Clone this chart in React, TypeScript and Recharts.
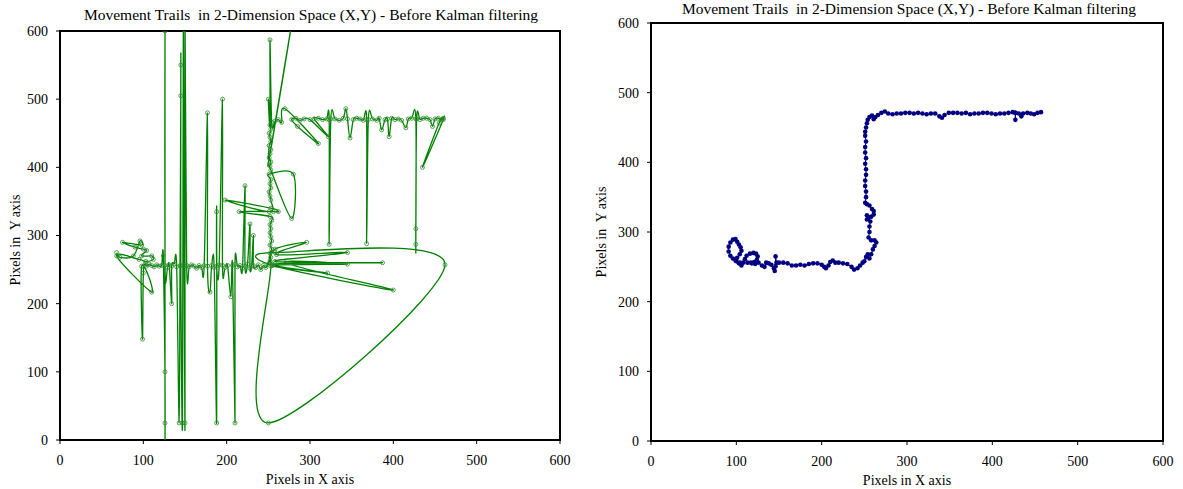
import React from 'react';
import { ScatterChart, Scatter, XAxis, YAxis, ReferenceArea } from 'recharts';

const TITLE = 'Movement Trails  in 2-Dimension Space (X,Y) - Before Kalman filtering';
const X_LABEL = 'Pixels in X axis';
const Y_LABEL = 'Pixels in  Y axis';
const axisTicks = [0, 100, 200, 300, 400, 500, 600];

// raw detections, noisy (left panel)
const rawTrail: [number, number][] = [
  [68, 275], [72, 268], [88, 270], [96, 292], [98, 286], [75, 290], [90, 283], [100, 280],
  [104, 278], [98, 270], [110, 270], [112, 265], [103, 262], [95, 265], [68, 270], [110, 217],
  [98, 255], [99, 148], [100, 245], [102, 258], [104, 255], [107, 258], [110, 256], [113, 254],
  [116, 257], [119, 255], [122, 256], [124, 270], [126, 100], [126, 25], [126, 600], [126, 256],
  [129, 253], [131, 257], [134, 200], [134, 255], [137, 258], [140, 254], [143, 25], [144, 256],
  [145, 505], [145, 550], [145, 256], [147, 25], [148, 620], [149, 256], [150, 25], [150, 610],
  [152, 256], [155, 254], [158, 257], [161, 255], [164, 252], [167, 256], [170, 253], [173, 256],
  [177, 480], [177, 255], [180, 217], [182, 256], [185, 253], [188, 25], [188, 335], [188, 255],
  [191, 257], [195, 500], [195, 256], [198, 253], [201, 256], [205, 210], [207, 256], [210, 25],
  [210, 258], [213, 254], [216, 256], [219, 252], [222, 373], [222, 255], [225, 258], [228, 317],
  [228, 252], [230, 256], [232, 300], [232, 256], [235, 253], [238, 257], [241, 250], [244, 256],
  [247, 253], [250, 258], [253, 255], [250, 25], [462, 257], [258, 275], [255, 256], [400, 220],
  [270, 260], [345, 258], [255, 256], [321, 245], [255, 258], [387, 260], [258, 262], [345, 275],
  [260, 272], [296, 290], [258, 280], [252, 262], [253, 268], [252, 274], [254, 280], [252, 286],
  [254, 292], [253, 298], [252, 304], [253, 310], [252, 316], [254, 322], [252, 328], [215, 335],
  [256, 335], [262, 335], [253, 340], [198, 352], [251, 335], [253, 352], [252, 358], [251, 364],
  [253, 370], [252, 376], [253, 382], [251, 390], [280, 390], [278, 325], [253, 396], [252, 402],
  [253, 408], [251, 414], [252, 420], [282, 640], [253, 426], [251, 432], [253, 438], [252, 444],
  [251, 450], [253, 456], [250, 500], [252, 462], [252, 587], [254, 466], [258, 468], [262, 470],
  [266, 466], [270, 486], [310, 435], [285, 460], [278, 470], [283, 472], [288, 469], [293, 471],
  [300, 470], [322, 445], [305, 471], [310, 472], [315, 470], [320, 471], [323, 470], [323, 287],
  [325, 471], [330, 471], [335, 469], [340, 472], [343, 486], [345, 471], [348, 443], [352, 470],
  [356, 472], [360, 471], [364, 469], [368, 470], [368, 288], [370, 470], [375, 471], [380, 469],
  [383, 472], [386, 455], [390, 470], [393, 471], [395, 445], [398, 472], [402, 470], [406, 471],
  [410, 469], [415, 458], [418, 471], [422, 472], [427, 471], [427, 287], [427, 310], [428, 471],
  [432, 470], [436, 472], [440, 472], [444, 470], [447, 460], [450, 471], [454, 472], [458, 470],
  [460, 470], [435, 400], [455, 465], [460, 472],
];

// tracked path (right panel)
const cleanTrail: [number, number][] = [
  [104, 256], [100, 258], [96, 262], [93, 266], [91, 272], [91, 279], [93, 285], [96, 289],
  [99, 290], [101, 286], [103, 282], [105, 278], [106, 273], [104, 268], [101, 263], [99, 259],
  [103, 255], [106, 252], [108, 256], [110, 261], [112, 266], [116, 269], [120, 270], [123, 269],
  [125, 265], [124, 260], [121, 257], [117, 256], [113, 256], [118, 255], [122, 254], [126, 256],
  [130, 252], [133, 250], [135, 256], [138, 255], [141, 253], [144, 248], [145, 244], [146, 251],
  [146, 265], [147, 256], [150, 256], [155, 256], [160, 255], [165, 252], [170, 252], [175, 253],
  [180, 252], [185, 254], [190, 255], [195, 255], [200, 253], [203, 250], [205, 248], [208, 252],
  [210, 257], [213, 259], [216, 256], [220, 256], [225, 255], [230, 254], [235, 250], [238, 246],
  [242, 248], [245, 252], [248, 256], [250, 258], [252, 264], [254, 268], [256, 262], [258, 268],
  [260, 275], [262, 280], [264, 285], [262, 288], [258, 288], [255, 292], [256, 300], [256, 308],
  [257, 315], [255, 321], [253, 318], [253, 324], [258, 322], [261, 325], [261, 330], [259, 333],
  [256, 338], [253, 340], [251, 342], [252, 350], [252, 358], [251, 366], [251, 374], [252, 382],
  [252, 390], [251, 398], [252, 406], [251, 414], [251, 422], [252, 430], [251, 438], [251, 444],
  [252, 450], [253, 456], [254, 461], [256, 465], [259, 467], [261, 462], [263, 465], [266, 468],
  [270, 471], [274, 473], [278, 470], [283, 469], [288, 470], [293, 470], [298, 471], [303, 471],
  [308, 470], [313, 471], [318, 470], [323, 469], [328, 470], [333, 470], [338, 466], [341, 464],
  [344, 468], [349, 471], [354, 471], [359, 471], [364, 470], [369, 471], [374, 469], [379, 470],
  [384, 470], [389, 471], [394, 471], [399, 470], [404, 469], [409, 470], [414, 470], [419, 471],
  [424, 472], [427, 471], [427, 461], [427, 471], [431, 470], [434, 466], [436, 470], [441, 471],
  [445, 470], [449, 469], [453, 471], [457, 472],
];

const toRows = (pts: [number, number][]) => pts.map(([x, y]) => ({ x, y }));

// excel-style smoothed line (catmull-rom through every point)
const smoothCurve = (context: any) => {
  let pts: number[][] = [];
  return {
    areaStart() {},
    areaEnd() {},
    lineStart() { pts = []; },
    point(x: number, y: number) { pts.push([+x, +y]); },
    lineEnd() {
      if (!pts.length) return;
      context.moveTo(pts[0][0], pts[0][1]);
      const t = 1 / 6;
      for (let i = 0; i < pts.length - 1; i++) {
        const p0 = pts[i - 1] || pts[i];
        const p1 = pts[i];
        const p2 = pts[i + 1];
        const p3 = pts[i + 2] || p2;
        context.bezierCurveTo(
          p1[0] + (p2[0] - p0[0]) * t, p1[1] + (p2[1] - p0[1]) * t,
          p2[0] - (p3[0] - p1[0]) * t, p2[1] - (p3[1] - p1[1]) * t,
          p2[0], p2[1]
        );
      }
    },
  };
};

const font = 'Liberation Serif, Times New Roman, serif';
const tickStyle = { fontSize: 14, fill: '#000', fontFamily: font };

const Txt: React.FC<{ x: number; y: number; text: string; size?: number; rotate?: boolean }> = ({ x, y, text, size = 14, rotate }) => (
  <div
    style={{
      position: 'absolute', left: x, top: y, fontFamily: font, fontSize: size, color: '#000',
      whiteSpace: 'pre', lineHeight: 1, transform: `translate(-50%, -50%)${rotate ? ' rotate(-90deg)' : ''}`,
    }}
  >
    {text}
  </div>
);

interface PanelProps {
  left: number;
  width: number;
  top: number;
  bottom: number;
  children: React.ReactNode;
}

const Panel: React.FC<PanelProps> = ({ left, width, top, bottom, children }) => (
  <div style={{ position: 'absolute', left, top: 0 }}>
    <ScatterChart width={width} height={489} margin={{ top, right: 20, bottom, left: 20 }}>
      <XAxis
        type="number" dataKey="x" domain={[0, 600]} ticks={axisTicks} allowDataOverflow
        tick={tickStyle} tickSize={4} tickMargin={11} height={30}
        axisLine={{ stroke: '#000', strokeWidth: 2 }} tickLine={{ stroke: '#000' }}
      />
      <YAxis
        type="number" dataKey="y" domain={[0, 600]} ticks={axisTicks} allowDataOverflow
        tick={tickStyle} tickSize={4} tickMargin={8} width={40}
        axisLine={{ stroke: '#000', strokeWidth: 2 }} tickLine={{ stroke: '#000' }}
      />
      <ReferenceArea x1={0} x2={600} y1={0} y2={600} fill="none" stroke="#000" strokeWidth={2} fillOpacity={0} />
      {children}
    </ScatterChart>
  </div>
);

export default function App() {
  return (
    <div style={{ position: 'absolute', left: 0, top: 0, width: 1183, height: 489, background: '#fff', overflow: 'hidden' }}>
      <Panel left={0} width={580} top={31} bottom={19}>
        <Scatter
          data={toRows(rawTrail)}
          isAnimationActive={false}
          line={{ stroke: '#008000', strokeWidth: 1.3 }}
          lineJointType={smoothCurve as any}
          shape={(p: any) => <circle cx={p.cx} cy={p.cy} r={2} fill="none" stroke="#2e8b2e" strokeWidth={0.8} />}
        />
      </Panel>
      <Panel left={591} width={592} top={23} bottom={18}>
        <Scatter
          data={toRows(cleanTrail)}
          isAnimationActive={false}
          line={{ stroke: '#000080', strokeWidth: 1 }}
          lineJointType="linear"
          shape={(p: any) => <circle cx={p.cx} cy={p.cy} r={2.3} fill="#000080" />}
        />
      </Panel>
      <Txt x={311} y={15} text={TITLE} size={15.5} />
      <Txt x={310} y={480} text={X_LABEL} />
      <Txt x={16} y={240} text={Y_LABEL} rotate />
      <Txt x={909} y={9} text={TITLE} size={15.5} />
      <Txt x={907} y={481} text={X_LABEL} />
      <Txt x={602} y={232} text={Y_LABEL} rotate />
    </div>
  );
}
